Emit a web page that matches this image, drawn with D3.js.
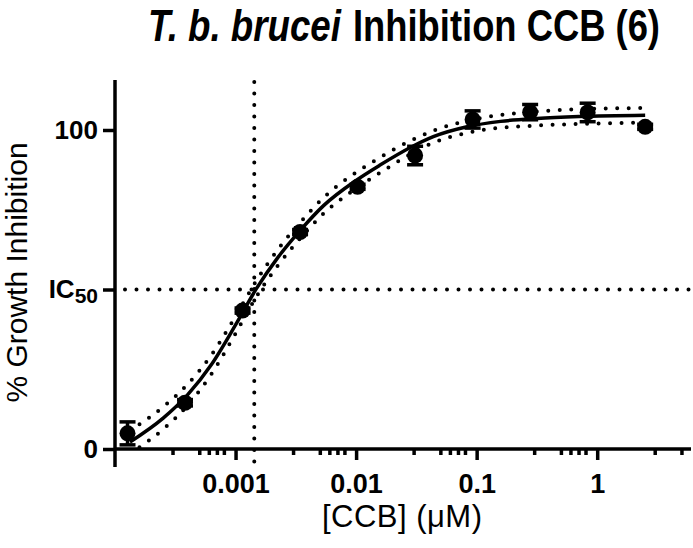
<!DOCTYPE html>
<html><head><meta charset="utf-8">
<script src="https://cdn.jsdelivr.net/npm/d3@7"></script>
<style>body{margin:0;background:#fff}</style>
</head><body>
<svg id="chart" width="693" height="548"></svg>
<script>
// ---- data ----
const concentrations = [0.000127, 0.000381, 0.001143, 0.00343, 0.01029, 0.03086, 0.0926, 0.2778, 0.8333, 2.5];
const inhibitionMean = [4.9, 14.5, 43.4, 68.0, 82.2, 92.0, 103.3, 105.6, 105.5, 101.0];
const inhibitionErr  = [3.6, 1.0, 0.8, 0.8, 0.8, 2.9, 2.7, 2.4, 2.9, 0.8];

const fitConc  = [0.000133, 0.000251, 0.000398, 0.000631, 0.001, 0.00148, 0.00224, 0.00347, 0.00537, 0.01, 0.0158, 0.0282, 0.0437, 0.0832, 0.158, 0.316, 0.708, 2.5];
const fitCurve = [2.2, 9.7, 16.9, 26.5, 38.9, 50.1, 60.0, 68.7, 76.3, 84.2, 89.0, 94.5, 97.9, 101.0, 102.7, 103.6, 104.2, 104.6];
const fitUpper = [5.8, 13.2, 20.2, 29.5, 41.6, 52.6, 62.5, 71.2, 78.8, 86.7, 91.4, 96.6, 99.8, 102.9, 104.7, 105.8, 106.5, 106.9];
const fitLower = [-1.4, 6.2, 13.6, 23.5, 36.2, 47.6, 57.5, 66.2, 73.8, 81.7, 86.6, 92.4, 96.0, 99.1, 100.7, 101.4, 101.9, 102.3];

const ic50Conc = 0.00143;
const ic50Level = 50;

const xMajorTicks = [0.001, 0.01, 0.1, 1];
const xTickLabels = ["0.001", "0.01", "0.1", "1"];
const xMinorTicks = [0.0003, 0.0005, 0.0006, 0.0007, 0.0008,
                     0.003, 0.005, 0.006, 0.007, 0.008,
                     0.03, 0.05, 0.06, 0.07, 0.08,
                     0.3, 0.5, 0.6, 0.7, 0.8,
                     3, 5];
const yTicks = [0, 50, 100];
const yTickLabels = ["0", "IC|50", "100"];

const titleItalic = "T. b. brucei";
const titleRest = "Inhibition CCB (6)";
const xTitle = "[CCB] (\u03BCM)";
const yTitle = "% Growth Inhibition";

(function draw() {
  const svg = d3.select("#chart");
  const FONT = "'Liberation Sans', Arial, Helvetica, sans-serif";
  const pL = 115, pR = 691, pB = 449, pT = 80;

  const x = d3.scaleLog().domain([1e-4, 6]).range([pL, pR]);
  const y = d3.scaleLinear().domain([0, 100]).range([pB, 130]);

  svg.append("clipPath").attr("id", "plotclip")
    .append("rect").attr("x", pL).attr("y", pT).attr("width", pR - pL).attr("height", pB - pT);

  const dotStyle = sel => sel.attr("stroke", "#000").attr("stroke-width", 4)
    .attr("stroke-dasharray", "0 11.5").attr("stroke-linecap", "round").attr("fill", "none");

  // IC50 guide lines
  svg.append("line")
    .attr("x1", pL + 10).attr("x2", pR - 2)
    .attr("y1", y(ic50Level)).attr("y2", y(ic50Level))
    .call(dotStyle);
  svg.append("line")
    .attr("x1", x(ic50Conc)).attr("x2", x(ic50Conc))
    .attr("y1", pT + 2).attr("y2", pB + 18)
    .call(dotStyle);

  // fit curve + confidence bands
  const line = d3.line().x(d => x(d[0])).y(d => y(d[1])).curve(d3.curveMonotoneX);
  const g = svg.append("g").attr("clip-path", "url(#plotclip)");
  g.append("path").datum(fitConc.map((c, i) => [c, fitUpper[i]])).attr("d", line).call(dotStyle);
  g.append("path").datum(fitConc.map((c, i) => [c, fitLower[i]])).attr("d", line).call(dotStyle);
  svg.append("path").datum(fitConc.map((c, i) => [c, fitCurve[i]])).attr("d", line)
    .attr("fill", "none").attr("stroke", "#000").attr("stroke-width", 3.5);

  // axes
  const xAxisMajor = d3.axisBottom(x).tickValues(xMajorTicks).tickSize(11).tickPadding(14)
    .tickFormat((d, i) => xTickLabels[i]);
  const xAxisMinor = d3.axisBottom(x).tickValues(xMinorTicks).tickSize(6).tickFormat("");
  const gxMinor = svg.append("g").attr("transform", `translate(0,${pB})`).call(xAxisMinor);
  const gx = svg.append("g").attr("transform", `translate(0,${pB})`).call(xAxisMajor);
  [gx, gxMinor].forEach(a => {
    a.select(".domain").remove();
    a.selectAll(".tick line").attr("stroke-width", 3.5);
  });
  gx.selectAll("text").attr("font-family", FONT).attr("font-size", 27).attr("font-weight", "bold").attr("fill", "#000");

  const yAxis = d3.axisLeft(y).tickValues(yTicks).tickSize(12).tickPadding(5).tickFormat("");
  const gy = svg.append("g").attr("transform", `translate(${pL},0)`).call(yAxis);
  gy.select(".domain").remove();
  gy.selectAll(".tick line").attr("stroke-width", 3.5);
  gy.selectAll(".tick").each(function(d, i) {
    const parts = yTickLabels[i].split("|");
    const t = d3.select(this).append("text")
      .attr("x", -17).attr("dy", "0.32em").attr("text-anchor", "end")
      .attr("font-family", FONT).attr("font-weight", "bold").attr("font-size", 26).attr("fill", "#000");
    t.append("tspan").text(parts[0]);
    if (parts[1]) t.append("tspan").attr("font-size", 21).attr("dy", 4.5).text(parts[1]);
  });

  // axis lines
  svg.append("line").attr("x1", pL).attr("x2", pR).attr("y1", pB).attr("y2", pB)
    .attr("stroke", "#000").attr("stroke-width", 3.5);
  svg.append("line").attr("x1", pL).attr("x2", pL).attr("y1", pT).attr("y2", pB + 18)
    .attr("stroke", "#000").attr("stroke-width", 3.5);

  // error bars
  const capHalf = 8;
  const eb = svg.append("g").attr("stroke", "#000").attr("stroke-width", 3.5);
  concentrations.forEach((c, i) => {
    const cx = x(c), y1 = y(inhibitionMean[i] - inhibitionErr[i]), y2 = y(inhibitionMean[i] + inhibitionErr[i]);
    eb.append("line").attr("x1", cx).attr("x2", cx).attr("y1", y1).attr("y2", y2);
    eb.append("line").attr("x1", cx - capHalf).attr("x2", cx + capHalf).attr("y1", y1).attr("y2", y1);
    eb.append("line").attr("x1", cx - capHalf).attr("x2", cx + capHalf).attr("y1", y2).attr("y2", y2);
  });

  // markers
  svg.append("g").selectAll("circle").data(concentrations).join("circle")
    .attr("cx", d => x(d)).attr("cy", (d, i) => y(inhibitionMean[i])).attr("r", 8).attr("fill", "#000");

  // titles (condensed bold, as in the reference): squeeze horizontally with a transform
  function condensed(txt, x0, y0, width, italic) {
    const gT = svg.append("g");
    const t = gT.append("text").attr("x", 0).attr("y", 0)
      .attr("font-family", FONT).attr("font-weight", "bold")
      .attr("font-style", italic ? "italic" : "normal")
      .attr("font-size", 44).attr("fill", "#000").text(txt);
    const natural = t.node().getComputedTextLength();
    gT.attr("transform", `translate(${x0},${y0}) scale(${width / natural},1)`);
  }
  condensed(titleItalic, 148, 40.5, 193, true);
  condensed(titleRest, 353, 40.5, 307, false);

  svg.append("text").attr("x", 402).attr("y", 527).attr("text-anchor", "middle")
    .attr("font-family", FONT).attr("font-size", 31).attr("fill", "#000")
    .attr("textLength", 160).attr("lengthAdjust", "spacing").text(xTitle);

  svg.append("text").attr("transform", "translate(27,272.5) rotate(-90)").attr("text-anchor", "middle")
    .attr("font-family", FONT).attr("font-size", 30).attr("fill", "#000").text(yTitle);
})();
</script>
</body></html>
